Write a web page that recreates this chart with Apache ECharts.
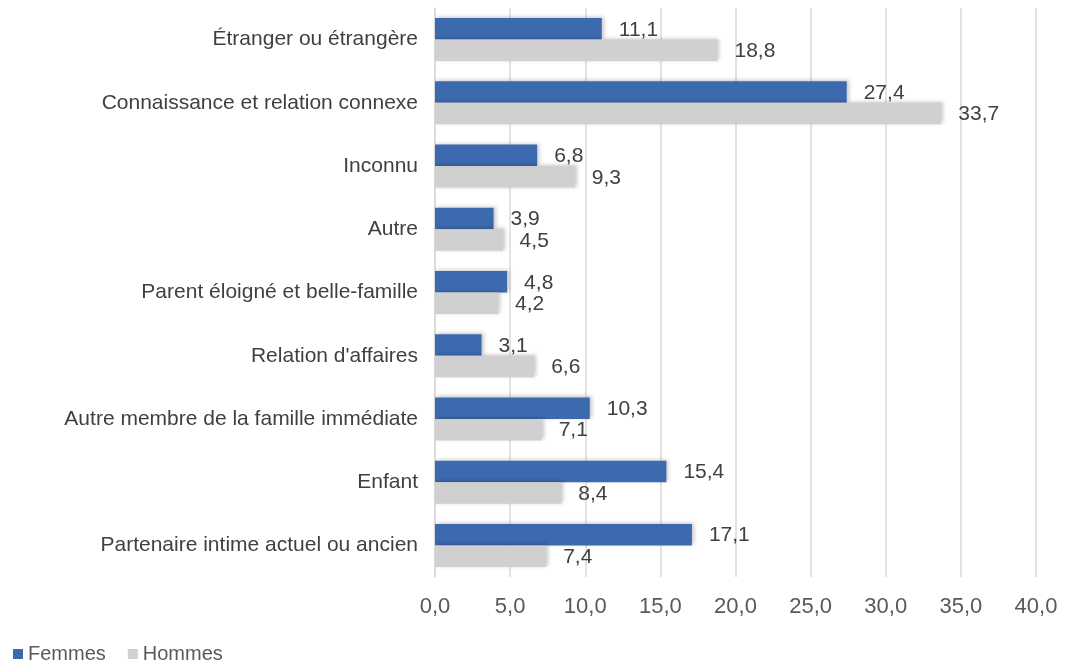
<!DOCTYPE html>
<html>
<head>
<meta charset="utf-8">
<script src="https://cdn.jsdelivr.net/npm/echarts@6.0.0/dist/echarts.min.js"></script>
<style>
  html, body { margin: 0; padding: 0; background: #fff; }
  #chart { width: 1066px; height: 665px; }
</style>
</head>
<body>
<div id="chart"></div>
<script>
// catégories, du haut vers le bas
const categories = [
    'Étranger ou étrangère',
    'Connaissance et relation connexe',
    'Inconnu',
    'Autre',
    'Parent éloigné et belle-famille',
    "Relation d'affaires",
    'Autre membre de la famille immédiate',
    'Enfant',
    'Partenaire intime actuel ou ancien'
];
const femmes = [11.1, 27.4, 6.8, 3.9, 4.8, 3.1, 10.3, 15.4, 17.1];
const hommes = [18.8, 33.7, 9.3, 4.5, 4.2, 6.6, 7.1, 8.4, 7.4];
const seriesNames = ['Femmes', 'Hommes'];

const fmt = v => v.toFixed(1).replace('.', ',');
const font = '"Liberation Sans", Arial, sans-serif';

const chart = echarts.init(document.getElementById('chart'));

function barSeries(name, data, color) {
    return {
        name: name,
        type: 'bar',
        data: data,
        barGap: '0%',
        barCategoryGap: '32%',
        itemStyle: {
            color: color,
            shadowColor: 'rgba(0,0,0,0.22)',
            shadowBlur: 4,
            shadowOffsetX: 2,
            shadowOffsetY: -1
        },
        label: {
            show: true,
            position: 'right',
            distance: 17,
            offset: [0, 1],
            color: '#404040',
            fontSize: 21,
            fontFamily: font,
            formatter: p => fmt(p.value)
        }
    };
}

chart.setOption({
    animation: false,
    textStyle: { fontFamily: font },
    grid: { left: 435, right: 30, top: 8, bottom: 88, containLabel: false },
    legend: {
        left: 8,
        bottom: -4,
        itemWidth: 10,
        itemHeight: 10,
        itemGap: 22,
        icon: 'rect',
        textStyle: { color: '#595959', fontSize: 20, fontFamily: font },
        data: seriesNames
    },
    xAxis: {
        type: 'value',
        min: 0,
        max: 40,
        interval: 5,
        axisLine: { show: false },
        axisTick: { show: false },
        splitLine: { lineStyle: { color: '#D9D9D9', width: 1.5 } },
        axisLabel: {
            color: '#595959',
            fontSize: 22,
            fontFamily: font,
            margin: 19,
            formatter: v => fmt(v)
        }
    },
    yAxis: {
        type: 'category',
        inverse: true,
        data: categories,
        axisLine: { show: true, lineStyle: { color: '#D9D9D9', width: 1.5 } },
        axisTick: { show: false },
        axisLabel: {
            color: '#404040',
            fontSize: 21,
            fontFamily: font,
            margin: 17
        }
    },
    series: [
        barSeries(seriesNames[0], femmes, '#3D69AE'),
        barSeries(seriesNames[1], hommes, '#D0D0D0')
    ]
});
</script>
</body>
</html>
